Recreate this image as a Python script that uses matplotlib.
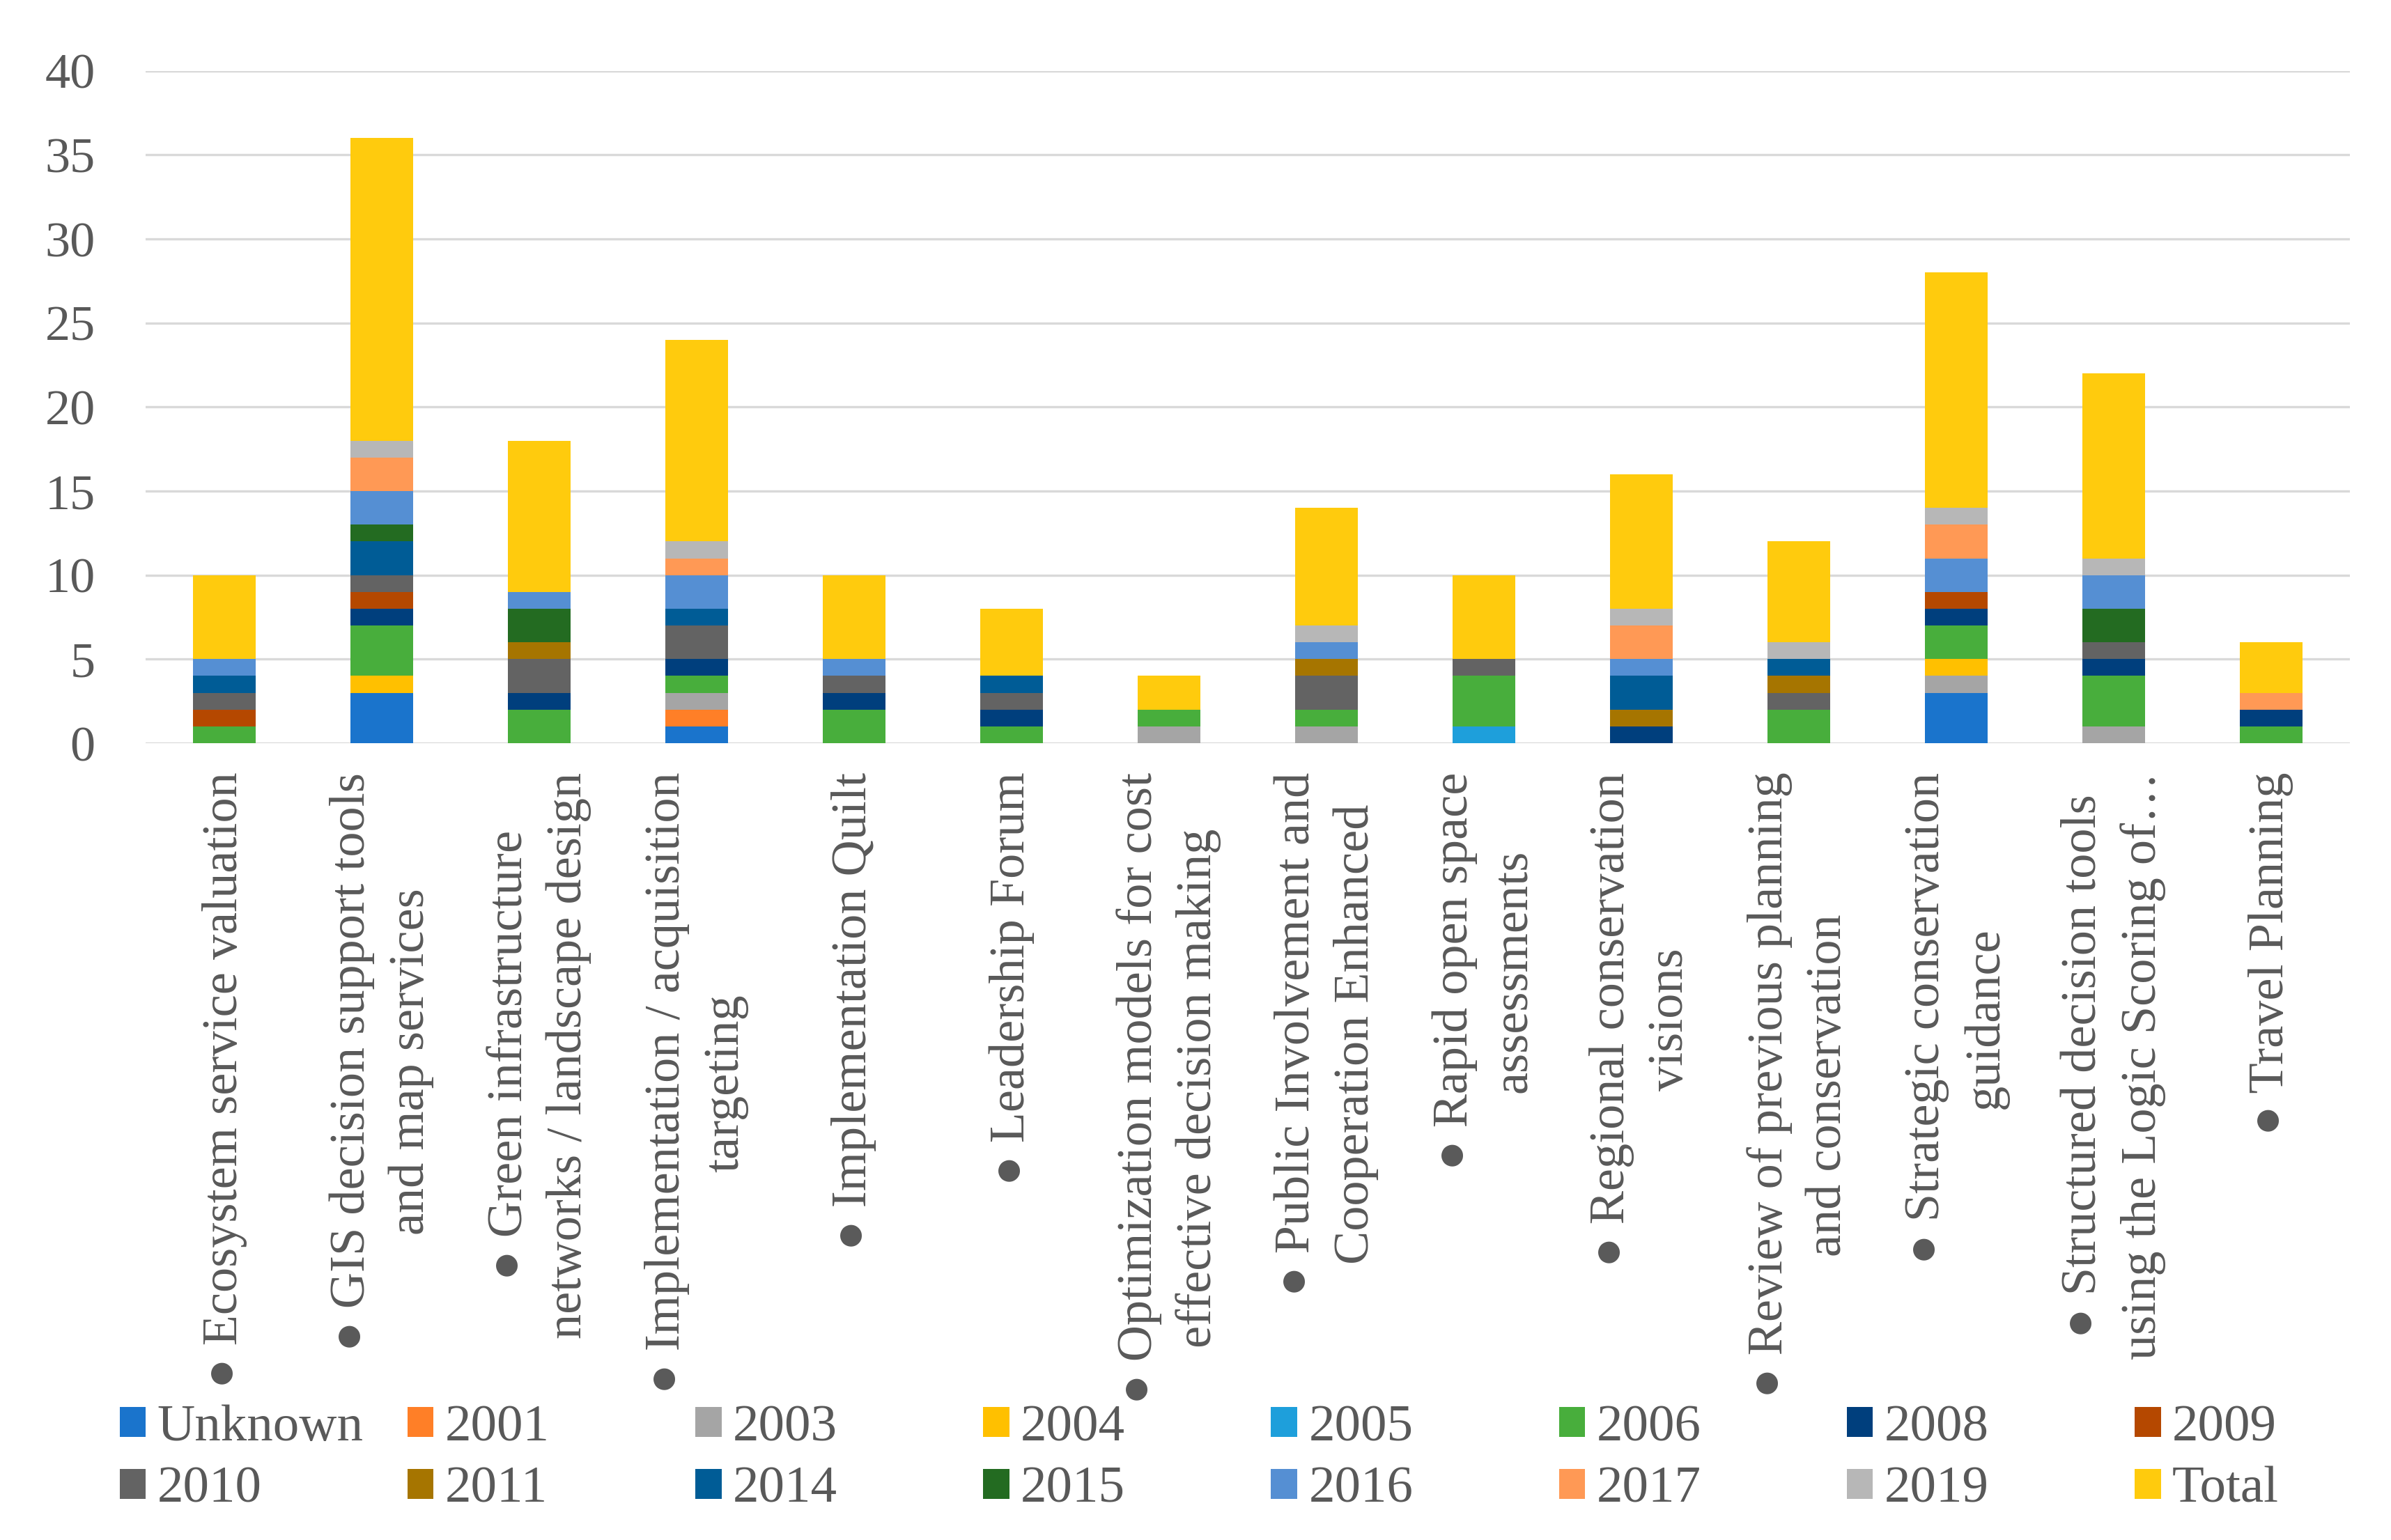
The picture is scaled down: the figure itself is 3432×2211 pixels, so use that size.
import numpy as np
import matplotlib
matplotlib.use("Agg")
from matplotlib import pyplot as plt
from matplotlib.patches import Patch

categories = [
    "\u25CF Ecosystem service valuation",
    "\u25CF GIS decision support tools\nand map services",
    "\u25CF Green infrastructure\nnetworks / landscape design",
    "\u25CF Implementation / acquisition\ntargeting",
    "\u25CF Implementation Quilt",
    "\u25CF Leadership Forum",
    "\u25CF Optimization models for cost\neffective decision making",
    "\u25CF Public Involvement and\nCooperation Enhanced",
    "\u25CF Rapid open space\nassessments",
    "\u25CF Regional conservation\nvisions",
    "\u25CF Review of previous planning\nand conservation",
    "\u25CF Strategic conservation\nguidance",
    "\u25CF Structured decision tools\nusing the Logic Scoring of\u2026",
    "\u25CF Travel Planning",
]

series_names = ["Unknown", "2001", "2003", "2004", "2005", "2006", "2008", "2009",
                "2010", "2011", "2014", "2015", "2016", "2017", "2019", "Total"]

unknown = [0, 3, 0, 1, 0, 0, 0, 0, 0, 0, 0, 3, 0, 0]
y2001 = [0, 0, 0, 1, 0, 0, 0, 0, 0, 0, 0, 0, 0, 0]
y2003 = [0, 0, 0, 1, 0, 0, 1, 1, 0, 0, 0, 1, 1, 0]
y2004 = [0, 1, 0, 0, 0, 0, 0, 0, 0, 0, 0, 1, 0, 0]
y2005 = [0, 0, 0, 0, 0, 0, 0, 0, 1, 0, 0, 0, 0, 0]
y2006 = [1, 3, 2, 1, 2, 1, 1, 1, 3, 0, 2, 2, 3, 1]
y2008 = [0, 1, 1, 1, 1, 1, 0, 0, 0, 1, 0, 1, 1, 1]
y2009 = [1, 1, 0, 0, 0, 0, 0, 0, 0, 0, 0, 1, 0, 0]
y2010 = [1, 1, 2, 2, 1, 1, 0, 2, 1, 0, 1, 0, 1, 0]
y2011 = [0, 0, 1, 0, 0, 0, 0, 1, 0, 1, 1, 0, 0, 0]
y2014 = [1, 2, 0, 1, 0, 1, 0, 0, 0, 2, 1, 0, 0, 0]
y2015 = [0, 1, 2, 0, 0, 0, 0, 0, 0, 0, 0, 0, 2, 0]
y2016 = [1, 2, 1, 2, 1, 0, 0, 1, 0, 1, 0, 2, 2, 0]
y2017 = [0, 2, 0, 1, 0, 0, 0, 0, 0, 2, 0, 2, 0, 1]
y2019 = [0, 1, 0, 1, 0, 0, 0, 1, 0, 1, 1, 1, 1, 0]
total = [5, 18, 9, 12, 5, 4, 2, 7, 5, 8, 6, 14, 11, 3]

series = [unknown, y2001, y2003, y2004, y2005, y2006, y2008, y2009,
          y2010, y2011, y2014, y2015, y2016, y2017, y2019, total]

colors = ["#1A74CC", "#FF7F27", "#A5A5A5", "#FFC000", "#1E9FDB", "#48AE3C",
          "#003F7D", "#B54800", "#636363", "#A67500", "#005C96", "#236B21",
          "#558FD3", "#FF9955", "#B7B7B7", "#FFCB0D"]

text_color = "#595959"
fonts = ["Liberation Serif", "DejaVu Sans"]
plt.rcParams["font.family"] = fonts

fig = plt.figure(figsize=(34.32, 22.11), dpi=100)
ax = fig.add_axes([0.0609, 0.5174, 0.9219, 0.4366])

x = np.arange(len(categories))
bottom = np.zeros(len(categories))
handles = []
for name, vals, c in zip(series_names, series, colors):
    vals = np.array(vals, dtype=float)
    ax.bar(x, vals, width=0.4, bottom=bottom, color=c, zorder=3)
    bottom += vals
    handles.append(Patch(facecolor=c, label=name))

ax.set_xlim(-0.5, len(categories) - 0.5)
ax.set_ylim(0, 40)
ax.set_yticks(range(0, 41, 5))
ax.yaxis.grid(True, color="#D9D9D9", linewidth=2.4, zorder=0)
ax.set_axisbelow(True)
for s in ax.spines.values():
    s.set_visible(False)
ax.tick_params(axis="both", length=0, colors=text_color)
ax.tick_params(axis="y", labelsize=52, pad=52)
ax.set_xticks(x)
ax.set_xticklabels(categories, rotation=90, ha="center", va="top",
                   multialignment="center", fontsize=52, color=text_color,
                   linespacing=1.38)
ax.tick_params(axis="x", pad=30)

# Excel-style legend: 8 equal-width columns, 2 rows, filled row by row
ncol = 8
col_w = 0.1204
for col in range(ncol):
    idx = [col, col + ncol]
    leg = fig.legend([handles[i] for i in idx], [series_names[i] for i in idx],
                     loc="center left", bbox_to_anchor=(0.050 + col * col_w, 0.0525),
                     ncol=1, frameon=False, fontsize=54, labelcolor=text_color,
                     handlelength=0.5, handleheight=0.5, handletextpad=0.22,
                     labelspacing=0.28, borderpad=0, borderaxespad=0)

fig.savefig("out.png", dpi=100, facecolor="white")
